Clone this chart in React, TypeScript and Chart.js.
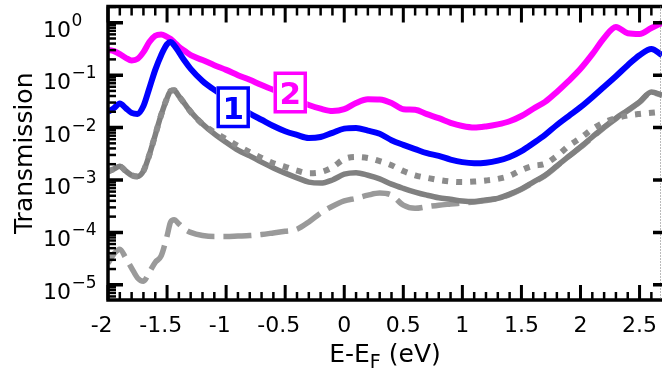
import React, { useEffect, useRef } from 'react';
import { Chart, registerables } from 'chart.js';

Chart.register(...registerables);

// Energy grid E - E_F (eV)
const energy = [
  -2.0, -1.95, -1.9, -1.85, -1.8, -1.75, -1.7, -1.65, -1.6, -1.55, -1.5, -1.47, -1.44, -1.4, -1.35, -1.3,
  -1.2, -1.1, -1.0, -0.9, -0.8, -0.7, -0.6, -0.5, -0.4, -0.3, -0.2, -0.1, 0.0, 0.1, 0.2, 0.3, 0.4, 0.5,
  0.6, 0.7, 0.8, 0.9, 1.0, 1.1, 1.2, 1.3, 1.4, 1.5, 1.6, 1.7, 1.8, 1.9, 2.0, 2.1, 2.2, 2.3, 2.4, 2.5, 2.6, 2.69,
];

// Configuration 2 (magenta)
const transMagenta = [
  0.302, 0.288, 0.251, 0.214, 0.191, 0.204, 0.275, 0.427, 0.562, 0.596, 0.537, 0.49, 0.427, 0.347, 0.288, 0.24,
  0.195, 0.155, 0.126, 0.1, 0.0813, 0.0646, 0.0525, 0.0417, 0.0335, 0.0269, 0.0229, 0.0207, 0.0224, 0.0295, 0.0347, 0.0343, 0.0295, 0.0224,
  0.0219, 0.018, 0.0151, 0.0123, 0.0107, 0.01, 0.0105, 0.0115, 0.0132, 0.0166, 0.0229, 0.0309, 0.0479, 0.0776, 0.132, 0.251, 0.513, 0.832, 0.631, 0.61, 0.794, 0.989,
];

// Configuration 1 (blue)
const transBlue = [
  0.02, 0.0235, 0.0288, 0.0235, 0.0191, 0.0182, 0.0257, 0.0562, 0.126, 0.24, 0.389, 0.427, 0.372, 0.275, 0.186, 0.132,
  0.0776, 0.0525, 0.038, 0.0269, 0.0186, 0.0141, 0.0107, 0.00851, 0.00724, 0.00631, 0.00661, 0.00794, 0.00955, 0.00977, 0.00871, 0.00759, 0.00575, 0.00468,
  0.00389, 0.00324, 0.00288, 0.00245, 0.00219, 0.00209, 0.00214, 0.00234, 0.00275, 0.00355, 0.00501, 0.00724, 0.0112, 0.0166, 0.0245, 0.038, 0.0603, 0.0955, 0.155, 0.24, 0.316, 0.24,
];

// Gray solid
const transGraySolid = [
  0.00145, 0.00162, 0.00182, 0.00148, 0.00123, 0.00116, 0.00148, 0.00302, 0.00724, 0.0174, 0.0363, 0.0501, 0.0513, 0.0398, 0.0282, 0.02,
  0.0117, 0.00759, 0.00525, 0.00372, 0.00288, 0.00219, 0.0017, 0.00135, 0.0011, 0.000912, 0.000871, 0.001, 0.00129, 0.00138, 0.00123, 0.00105, 0.000832, 0.000692,
  0.000589, 0.000513, 0.000457, 0.000427, 0.000398, 0.000389, 0.000417, 0.000447, 0.000537, 0.000676, 0.000912, 0.00123, 0.00186, 0.00282, 0.00427, 0.00661, 0.0102, 0.0151, 0.0214, 0.0309, 0.0479, 0.0417,
];

// Gray dotted
const transGrayDotted = [
  0.00145, 0.00162, 0.00182, 0.00148, 0.00123, 0.00116, 0.00148, 0.00302, 0.00724, 0.0174, 0.0363, 0.0501, 0.0513, 0.0398, 0.0282, 0.02,
  0.0117, 0.00813, 0.00603, 0.00447, 0.00339, 0.00263, 0.00209, 0.00178, 0.00151, 0.00135, 0.00141, 0.00174, 0.00251, 0.00275, 0.00263, 0.00229, 0.00191, 0.00148,
  0.00123, 0.0011, 0.001, 0.000933, 0.000912, 0.000933, 0.000977, 0.00105, 0.0012, 0.00155, 0.00186, 0.00204, 0.00288, 0.00447, 0.00631, 0.00933, 0.0126, 0.0151, 0.017, 0.0182, 0.0191, 0.02,
];

// Gray dashed
const transGrayDashed = [
  2.57e-5, 3.89e-5, 4.79e-5, 3.24e-5, 2.09e-5, 1.35e-5, 1.17e-5, 1.74e-5, 2.69e-5, 3.55e-5, 8.51e-5, 1.58e-4, 1.74e-4, 1.45e-4, 1.15e-4, 1.0e-4,
  8.71e-5, 8.32e-5, 8.32e-5, 8.51e-5, 8.71e-5, 9.12e-5, 9.77e-5, 1.05e-4, 1.15e-4, 1.58e-4, 2.34e-4, 3.16e-4, 3.98e-4, 4.47e-4, 5.13e-4, 5.62e-4, 5.13e-4, 3.31e-4,
  2.88e-4, 3.09e-4, 3.31e-4, 3.47e-4, 3.63e-4, 3.8e-4, 4.07e-4, 4.47e-4, 5.25e-4, 6.61e-4, 8.91e-4, 1.2e-3, 1.82e-3, 2.82e-3, 4.17e-3, 6.46e-3, 1.0e-2, 1.48e-2, 2.09e-2, 3.02e-2, 4.68e-2, 4.07e-2,
];

const xTickValues = [-2, -1.5, -1, -0.5, 0, 0.5, 1, 1.5, 2, 2.5];
const xTickLabels = ['-2', '-1.5', '-1', '-0.5', '0', '0.5', '1', '1.5', '2', '2.5'];
const yTickValues = [1, 0.1, 0.01, 0.001, 1e-4, 1e-5];
const yTickExponents = ['0', '\u22121', '\u22122', '\u22123', '\u22124', '\u22125'];

const boxTexts = ['1', '2'];
const boxColors = ['#0000ff', '#ff00ff'];
const boxEnergy = [-0.94, -0.457];
const boxTrans = [0.0244, 0.0466];

const X_MIN = -2;
const X_MAX = 2.69;
const Y_MIN = 5.13e-6;
const Y_MAX = 2.04;

const FONT = '"DejaVu Sans", Verdana, sans-serif';

const decorPlugin = {
  id: 'decor',
  afterDatasetsDraw(chart: any) {
    const { ctx, chartArea: a, scales } = chart;
    const xs = scales.x;
    const ys = scales.y;
    ctx.save();

    // label boxes
    for (let i = 0; i < boxTexts.length; i++) {
      const cx = xs.getPixelForValue(boxEnergy[i]);
      const cy = ys.getPixelForValue(boxTrans[i]);
      const w = 30;
      const h = 38.5;
      ctx.fillStyle = '#ffffff';
      ctx.fillRect(cx - w / 2 - 2, cy - h / 2 - 2, w + 4, h + 4);
      ctx.strokeStyle = boxColors[i];
      ctx.lineWidth = 3.5;
      ctx.strokeRect(cx - w / 2, cy - h / 2, w, h);
      ctx.fillStyle = boxColors[i];
      ctx.font = 'bold 31px ' + FONT;
      ctx.textAlign = 'center';
      ctx.textBaseline = 'alphabetic';
      ctx.fillText(boxTexts[i], cx, cy + 11.5);
    }

    // frame
    ctx.strokeStyle = '#000';
    ctx.lineWidth = 3.5;
    ctx.lineCap = 'butt';
    ctx.lineJoin = 'miter';
    ctx.beginPath();
    ctx.moveTo(a.right, a.top);
    ctx.lineTo(a.left, a.top);
    ctx.lineTo(a.left, a.bottom);
    ctx.lineTo(a.right, a.bottom);
    ctx.stroke();

    // right dotted edge
    ctx.save();
    ctx.strokeStyle = '#777';
    ctx.lineWidth = 1;
    ctx.setLineDash([1, 2]);
    ctx.beginPath();
    ctx.moveTo(a.right - 1.5, a.top);
    ctx.lineTo(a.right - 1.5, a.bottom);
    ctx.stroke();
    ctx.restore();

    // x ticks (top and bottom, inward)
    for (let k = -20; k <= 27; k++) {
      const v = k / 10;
      if (v < X_MIN - 1e-9 || v > X_MAX + 1e-9) continue;
      const px = xs.getPixelForValue(v);
      const major = k % 5 === 0;
      const len = major ? 15 : 8;
      ctx.lineWidth = major ? 3 : 2.5;
      ctx.beginPath();
      ctx.moveTo(px, a.bottom);
      ctx.lineTo(px, a.bottom - len);
      ctx.moveTo(px, a.top);
      ctx.lineTo(px, a.top + len + 1);
      ctx.stroke();
    }

    // y ticks (left inward, major and minor; right: major only)
    for (let d = -6; d <= 0; d++) {
      for (let m = 1; m <= 9; m++) {
        const v = m * Math.pow(10, d);
        if (v < Y_MIN || v > Y_MAX) continue;
        const py = ys.getPixelForValue(v);
        const major = m === 1;
        ctx.lineWidth = major ? 3.5 : 2.5;
        ctx.beginPath();
        ctx.moveTo(a.left, py);
        ctx.lineTo(a.left + (major ? 15 : 8), py);
        if (major) {
          ctx.moveTo(a.right, py);
          ctx.lineTo(a.right - 9, py);
        }
        ctx.stroke();
      }
    }

    // x tick labels
    ctx.fillStyle = '#000';
    ctx.font = '22px ' + FONT;
    ctx.textAlign = 'center';
    ctx.textBaseline = 'alphabetic';
    const hyph = ctx.measureText('-').width;
    for (let i = 0; i < xTickValues.length; i++) {
      const px = xs.getPixelForValue(xTickValues[i]);
      const lbl = xTickLabels[i];
      const shift = lbl.startsWith('-') ? -hyph * 0.8 : 0;
      ctx.fillText(lbl, px + shift, a.bottom + 32);
    }

    // y tick labels 10^n
    ctx.textAlign = 'left';
    for (let i = 0; i < yTickValues.length; i++) {
      const py = ys.getPixelForValue(yTickValues[i]);
      ctx.font = '22px ' + FONT;
      const baseX = 43;
      ctx.fillText('10', baseX, py + 14);
      const bw = ctx.measureText('10').width;
      ctx.font = '17px ' + FONT;
      ctx.fillText(yTickExponents[i], baseX + bw + 0.5, py + 3);
    }

    // x title E-E_F (eV)
    const cxT = (a.left + a.right) / 2;
    ctx.font = '25px ' + FONT;
    const p1 = 'E-E';
    const p3 = ' (eV)';
    const w1 = ctx.measureText(p1).width;
    const w3 = ctx.measureText(p3).width;
    ctx.font = '19px ' + FONT;
    const w2 = ctx.measureText('F').width;
    const total = w1 + w2 + w3;
    let xx = cxT - total / 2;
    ctx.font = '25px ' + FONT;
    ctx.fillText(p1, xx, 362);
    xx += w1;
    ctx.font = '19px ' + FONT;
    ctx.fillText('F', xx, 368);
    xx += w2;
    ctx.font = '25px ' + FONT;
    ctx.fillText(p3, xx, 362);

    // y title
    ctx.save();
    ctx.translate(32, (a.top + a.bottom) / 2);
    ctx.rotate(-Math.PI / 2);
    ctx.textAlign = 'center';
    ctx.font = '25px ' + FONT;
    ctx.fillText('Transmission', 0, 0);
    ctx.restore();

    ctx.restore();
  },
};

export default function App() {
  const canvasRef = useRef<HTMLCanvasElement | null>(null);

  useEffect(() => {
    const canvas = canvasRef.current;
    if (!canvas) return;
    const mk = (vals: number[]) => energy.map((e, i) => ({ x: e, y: vals[i] }));
    const chart = new Chart(canvas, {
      type: 'line',
      data: {
        datasets: [
          {
            label: 'Config 1',
            data: mk(transBlue),
            borderColor: '#0000ff',
            borderWidth: 6,
            order: 1,
          },
          {
            label: 'Config 2',
            data: mk(transMagenta),
            borderColor: '#ff00ff',
            borderWidth: 6,
            order: 2,
          },
          {
            label: 'Dotted',
            data: mk(transGrayDotted),
            borderColor: '#8c8c8c',
            borderWidth: 6,
            borderDash: [6, 8],
            borderCapStyle: 'butt',
            order: 3,
          },
          {
            label: 'Solid',
            data: mk(transGraySolid),
            borderColor: '#808080',
            borderWidth: 5.5,
            order: 4,
          },
          {
            label: 'Dashed',
            data: mk(transGrayDashed),
            borderColor: '#9a9a9a',
            borderWidth: 5.5,
            borderDash: [28, 9],
            borderCapStyle: 'butt',
            order: 5,
          },
        ] as any,
      },
      options: {
        animation: false,
        responsive: false,
        maintainAspectRatio: false,
        devicePixelRatio: 1,
        layout: { padding: { top: 6.5, right: 0, left: 0, bottom: 0 } },
        elements: {
          point: { radius: 0, hoverRadius: 0 },
          line: { fill: false, cubicInterpolationMode: 'monotone', borderJoinStyle: 'round' },
        },
        plugins: {
          legend: { display: false },
          tooltip: { enabled: false },
        },
        scales: {
          x: {
            type: 'linear',
            min: X_MIN,
            max: X_MAX,
            grid: { display: false },
            border: { display: false },
            ticks: { display: false },
            afterFit: (s: any) => {
              s.height = 70;
            },
          },
          y: {
            type: 'logarithmic',
            min: Y_MIN,
            max: Y_MAX,
            grid: { display: false },
            border: { display: false },
            ticks: { display: false },
            afterFit: (s: any) => {
              s.width = 108;
            },
          },
        },
      } as any,
      plugins: [decorPlugin],
    });
    return () => chart.destroy();
  }, []);

  return (
    <div style={{ position: 'fixed', left: 0, top: 0, width: 662, height: 370, background: '#fff' }}>
      <canvas ref={canvasRef} width={662} height={370} style={{ width: 662, height: 370 }} />
    </div>
  );
}
